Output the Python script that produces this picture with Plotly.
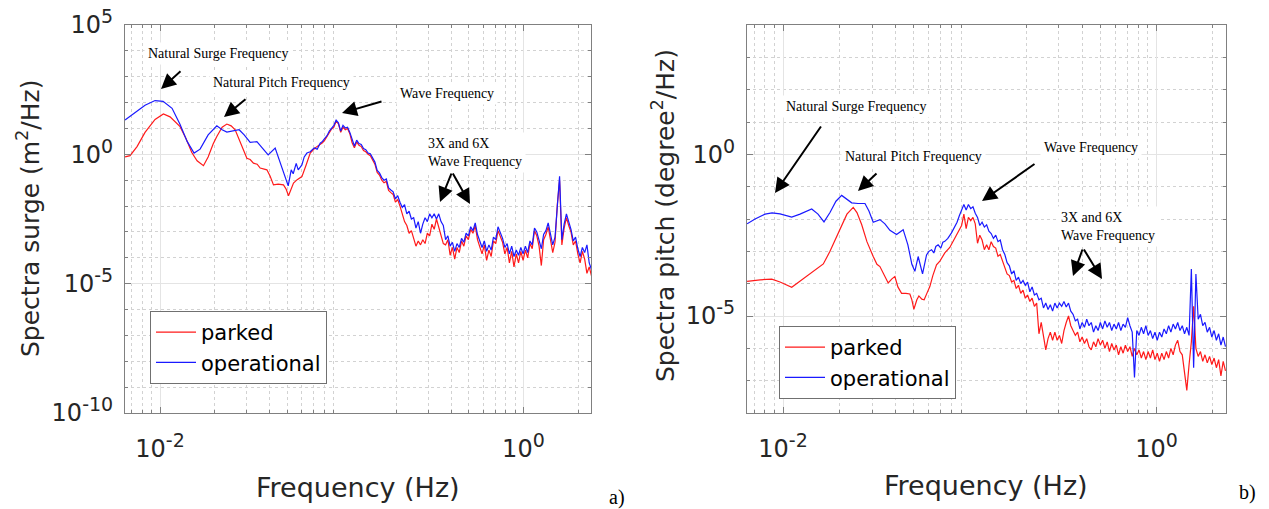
import numpy as np
import plotly.graph_objects as go

# ---------------- (a) surge spectra: values are log10 of PSD (m^2/Hz) ----------------
surge_oper_f_low = [0.006415, 0.007284, 0.008265, 0.009386, 0.01039, 0.01164, 0.01289, 0.01409, 0.01539, 0.01661,
                    0.01839, 0.02053, 0.02196, 0.02331, 0.02525, 0.02724, 0.02904, 0.03133, 0.03411, 0.03648,
                    0.03936, 0.04301, 0.04583, 0.04884, 0.05074, 0.05270, 0.05406, 0.05615, 0.05759, 0.06036,
                    0.06215, 0.06432, 0.06707, 0.07055, 0.07328]
surge_oper_low = [1.33, 1.62, 1.9, 2.08, 2.05, 1.78, 1.15, 0.5, 0.05, 0.2,
                  0.75, 1.10, 0.95, 0.86, 0.92, 0.95, 0.75, 0.46, 0.49, 0.25,
                  -0.02, 0.24, -0.3, -0.9, -1.22, -0.6, -0.75, -0.35, -0.6, -0.41,
                  -0.1, 0.05, 0.1, 0.25, 0.2]
surge_park_f_low = [0.006415, 0.006836, 0.007469, 0.008265, 0.009386, 0.01043, 0.01135, 0.01289, 0.01391, 0.01495,
                    0.01599, 0.01733, 0.01839, 0.01959, 0.02053, 0.02196, 0.02331, 0.02462, 0.02590, 0.02795,
                    0.03005, 0.03133, 0.03266, 0.03423, 0.03556, 0.03872, 0.04037, 0.04210, 0.04467, 0.04779,
                    0.04946, 0.05093, 0.05270, 0.05426, 0.05685, 0.06036, 0.06375, 0.06707, 0.07145]
surge_park_low = [-0.1, -0.05, 0.3, 0.85, 1.35, 1.56, 1.45, 1.07, 0.6, 0.07,
                  -0.25, -0.44, -0.1, 0.4, 0.69, 1.05, 1.17, 1.1, 0.95, 0.4,
                  -0.15, -0.2, -0.34, -0.38, -0.53, -0.6, -0.85, -1.18, -1.15, -1.18,
                  -1.35, -1.6, -1.35, -1.11, -0.98, -0.86, -0.4, 0.05, 0.25]
# dense FFT bins 0.0761 .. 2.37 Hz
surge_f_high_range = (0.0761, 2.37)
surge_oper_high = [0.43, 0.5, 0.62, 0.72, 0.9, 1.02, 1.12, 1.32, 1.22, 0.9,
                   1.12, 1.02, 1.05, 0.85, 0.55, 0.32, 0.55, 0.42, 0.38, 0.22,
                   0.18, 0.05, 0.02, -0.15, -0.3, -0.62, -0.72, -0.9, -1.0, -0.95,
                   -1.3, -1.38, -1.45, -1.72, -1.6, -1.85, -2.05, -1.95, -2.3, -2.2,
                   -2.5, -2.45, -2.85, -2.6, -3.05, -2.7, -2.45, -2.6, -2.3, -2.45,
                   -2.3, -2.5, -2.3, -2.6, -2.75, -3.3, -3.15, -3.55, -3.4, -3.75,
                   -3.45, -3.6, -3.25, -3.4, -3.05, -3.15, -2.8, -2.95, -2.65, -3.1,
                   -3.35, -3.6, -3.35, -3.75, -3.5, -3.7, -3.2, -3.3, -2.8, -3.05,
                   -3.25, -3.6, -3.45, -3.85, -3.55, -3.95, -3.7, -3.9, -3.6, -3.85,
                   -3.55, -3.8, -3.35, -3.5, -2.85, -3.0, -3.35, -3.65, -3.1, -2.95,
                   -2.65, -3.1, -3.5, -3.2, -1.8, -0.85, -3.3, -2.7, -2.3, -2.6,
                   -2.9, -3.35, -3.2, -3.65, -3.95, -3.6, -3.8, -3.5, -4.2, -4.45]
surge_park_high = [0.38, 0.45, 0.55, 0.68, 0.85, 0.98, 1.05, 1.28, 1.18, 0.85,
                   1.05, 0.95, 1.0, 0.8, 0.45, 0.25, 0.48, 0.35, 0.3, 0.15,
                   0.1, 0.0, -0.05, -0.22, -0.38, -0.7, -0.8, -1.0, -1.1, -1.05,
                   -1.4, -1.48, -1.55, -1.85, -1.75, -2.0, -2.3, -2.6, -2.75, -3.05,
                   -2.95, -3.3, -3.55, -3.35, -3.5, -3.3, -3.45, -3.05, -3.15, -2.7,
                   -2.9, -2.5, -2.8, -3.1, -3.45, -3.5, -3.3, -3.9, -3.6, -4.05,
                   -3.6, -3.8, -3.35, -3.55, -3.15, -3.3, -2.9, -3.05, -2.75, -3.3,
                   -3.6, -3.85, -3.5, -4.1, -3.7, -3.95, -3.35, -3.45, -2.95, -3.2,
                   -3.4, -3.85, -3.6, -4.2, -3.75, -4.35, -3.85, -4.2, -3.75, -4.1,
                   -3.7, -4.0, -3.45, -3.65, -2.95, -3.15, -3.55, -4.3, -3.3, -3.1,
                   -2.8, -3.3, -3.8, -3.4, -1.95, -1.0, -3.5, -2.85, -2.45, -2.75,
                   -3.0, -3.5, -3.35, -3.85, -4.2, -3.75, -4.05, -4.6, -4.35, -4.7]

# ---------------- (b) pitch spectra: values are log10 of PSD (degree^2/Hz) ----------------
pitch_oper_f_low = [0.006420, 0.007085, 0.008011, 0.008735, 0.009638, 0.01113, 0.01233, 0.01424, 0.01539, 0.01657,
                    0.01784, 0.01920, 0.02061, 0.02173, 0.02331, 0.02519, 0.02746, 0.02884, 0.03040, 0.03302,
                    0.03512, 0.03735, 0.04055, 0.04398, 0.04661, 0.04897, 0.05081, 0.05291, 0.05585, 0.05867,
                    0.06036, 0.06240, 0.06419, 0.06579, 0.06768, 0.06998, 0.07172, 0.07351, 0.07628, 0.07981]
pitch_oper_low = [-2.15, -2.0, -1.85, -1.81, -1.84, -1.94, -1.85, -1.69, -1.85, -2.09,
                  -1.8, -1.45, -1.27, -1.38, -1.50, -1.52, -1.52, -1.75, -2.10, -2.02,
                  -2.15, -2.35, -2.48, -2.33, -2.8, -3.4, -3.62, -3.16, -3.70, -3.11,
                  -3.0, -2.95, -3.05, -2.85, -2.80, -2.9, -2.72, -2.69, -2.6, -2.43]
pitch_park_f_low = [0.006420, 0.007534, 0.008702, 0.009638, 0.01113, 0.01233, 0.01394, 0.01643, 0.01784, 0.01920,
                    0.02061, 0.02198, 0.02376, 0.02488, 0.02636, 0.02813, 0.03040, 0.03182, 0.03302, 0.03468,
                    0.03657, 0.03827, 0.03972, 0.04121, 0.04313, 0.04546, 0.04776, 0.04897, 0.05018, 0.05207,
                    0.05338, 0.05538, 0.05697, 0.05890, 0.06111, 0.06340, 0.06635, 0.06914, 0.07351, 0.07816]
pitch_park_low = [-3.93, -3.88, -3.86, -3.95, -4.11, -3.92, -3.7, -3.39, -3.0, -2.6,
                  -2.23, -1.85, -1.64, -1.8, -2.17, -2.7, -3.16, -3.4, -3.47, -3.7,
                  -3.98, -3.85, -3.78, -4.1, -4.30, -4.3, -4.32, -4.5, -4.79, -4.5,
                  -4.38, -4.48, -4.50, -4.3, -4.09, -3.75, -3.42, -3.3, -3.05, -2.88]
pitch_f_high_range = (0.0831, 2.34)
pitch_oper_high = [-2.25, -2.1, -1.9, -1.75, -1.55, -1.72, -1.55, -1.68, -1.62, -1.82,
                   -1.95, -2.2, -2.1, -2.25, -2.18, -2.38, -2.45, -2.6, -2.5, -2.7,
                   -2.65, -2.95, -3.1, -3.35, -3.45, -3.7, -3.6, -3.9, -3.8, -4.0,
                   -3.9, -4.05, -3.95, -4.25, -4.1, -4.35, -4.3, -4.5, -4.45, -4.75,
                   -4.6, -4.8, -4.65, -4.85, -4.6, -4.75, -4.6, -4.7, -4.55, -4.72,
                   -4.6, -4.85, -4.95, -5.15, -5.1, -5.4, -5.2, -5.35, -5.1, -5.3,
                   -5.2, -5.5, -5.3, -5.45, -5.2, -5.4, -5.15, -5.35, -5.2, -5.45,
                   -5.25, -5.4, -5.2, -5.45, -5.25, -5.35, -5.05, -5.3, -5.5, -6.9,
                   -5.45, -5.6, -5.35, -5.55, -5.3, -5.6, -5.45, -5.7, -5.5, -5.75,
                   -5.5, -5.65, -5.4, -5.55, -5.3, -5.5, -5.25, -5.4, -5.2, -5.45,
                   -5.3, -5.55, -5.35, -5.6, -3.55, -6.6, -3.7, -5.1, -4.95, -5.3,
                   -5.2, -5.5, -5.35, -5.65, -5.45, -5.75, -5.55, -5.9, -5.65, -5.95]
pitch_park_high = [-2.6, -2.45, -2.35, -2.2, -1.85, -2.3, -1.95, -2.05, -1.95, -2.15,
                   -2.75, -2.5, -2.65, -2.95, -2.8, -2.95, -2.7, -2.85, -2.9, -3.15,
                   -3.1, -3.3, -3.5, -3.7, -3.75, -3.95, -3.9, -4.15, -4.05, -4.3,
                   -4.2, -4.45, -4.35, -4.55, -4.45, -4.7, -4.6, -5.55, -5.2, -5.6,
                   -6.05, -5.7, -5.5, -5.75, -5.5, -5.75, -5.6, -5.85, -5.45, -5.2,
                   -5.0, -5.3, -5.45, -5.6, -5.5, -5.8, -5.65, -5.85, -5.7, -5.95,
                   -6.05, -5.8, -5.95, -5.7, -5.9, -5.75, -6.0, -5.8, -6.1, -5.85,
                   -6.05, -5.9, -6.2, -5.95, -6.15, -5.9, -6.1, -5.95, -6.25, -6.0,
                   -6.2, -6.05, -6.3, -6.1, -6.35, -6.1, -6.3, -6.05, -6.35, -6.15,
                   -6.4, -6.15, -6.35, -6.1, -6.3, -6.0, -6.2, -5.9, -5.75, -6.1,
                   -6.2, -6.7, -7.3, -6.5, -5.8, -4.7, -6.0, -6.25, -6.1, -6.4,
                   -6.2, -6.45, -6.25, -6.5, -6.3, -6.6, -6.35, -6.85, -6.4, -6.7]

series_names = ["parked", "operational"]
series_colors = ["#ff1a1a", "#1a1aff"]

W, H = 1269, 509
def PX(x): return x / W
def PY(y): return 1 - y / H

def series(f_low, v_low, f_range, v_high):
    f_high = np.geomspace(f_range[0], f_range[1], len(v_high))
    f = np.concatenate([np.array(f_low), f_high])
    v = 10.0 ** np.concatenate([np.array(v_low), np.array(v_high)])
    return f, v

fig = go.Figure()
panels = [
    ("x", "y", "legend", [(surge_park_f_low, surge_park_low, surge_f_high_range, surge_park_high),
                          (surge_oper_f_low, surge_oper_low, surge_f_high_range, surge_oper_high)]),
    ("x2", "y2", "legend2", [(pitch_park_f_low, pitch_park_low, pitch_f_high_range, pitch_park_high),
                             (pitch_oper_f_low, pitch_oper_low, pitch_f_high_range, pitch_oper_high)]),
]
for xa, ya, leg, data in panels:
    for (fl, vl, fr, vh), name, col in zip(data, series_names, series_colors):
        f, v = series(fl, vl, fr, vh)
        fig.add_trace(go.Scatter(x=f, y=v, mode="lines", name=name, xaxis=xa, yaxis=ya,
                                 legend=leg, line=dict(color=col, width=1.2)))

AX = "#808080"
TICKFONT = dict(family="DejaVu Sans", size=24, color="#262626")
x_minor = [k * 10.0 ** e for e in (-3, -2, -1, 0) for k in range(2, 10)]

def pow_label(m):
    return "10<sup><span style='font-size:19px'>%d</span></sup>" % m

def xaxis(domain, anchor):
    return dict(type="log", range=[-2.193, 0.372], domain=domain, anchor=anchor, automargin=False,
                tickmode="array", tickvals=[0.01, 1], ticktext=[pow_label(-2), pow_label(0)],
                ticks="inside", ticklen=6, tickcolor=AX, showline=True, linecolor=AX, linewidth=1,
                mirror="ticks", showgrid=True, gridcolor="#e4e4e4", gridwidth=1, zeroline=False,
                tickfont=TICKFONT, ticklabelstandoff=14,
                minor=dict(tickvals=x_minor, ticks="inside", ticklen=3, tickcolor=AX,
                           showgrid=True, gridcolor="#d2d2d2", griddash="dot", gridwidth=1))

def yaxis(domain, anchor, rng, majors, minors):
    return dict(type="log", range=rng, domain=domain, anchor=anchor, automargin=False,
                tickmode="array", tickvals=[10.0 ** m for m in majors],
                ticktext=[pow_label(m) for m in majors],
                ticks="inside", ticklen=6, tickcolor=AX, showline=True, linecolor=AX, linewidth=1,
                mirror="ticks", showgrid=True, gridcolor="#e4e4e4", gridwidth=1, zeroline=False,
                tickfont=TICKFONT, ticklabelstandoff=6,
                minor=dict(tickvals=[10.0 ** m for m in minors], ticks="inside", ticklen=3, tickcolor=AX,
                           showgrid=True, gridcolor="#d2d2d2", griddash="dot", gridwidth=1))

ydom = [PY(413), PY(25)]
fig.update_layout(
    width=W, height=H, margin=dict(l=0, r=0, t=0, b=0, autoexpand=False),
    paper_bgcolor="white", plot_bgcolor="white",
    xaxis=xaxis([PX(125), PX(591)], "y"),
    yaxis=yaxis(ydom, "x", [-10, 5], [-10, -5, 0, 5], [m for m in range(-9, 5) if m not in (-5, 0)]),
    xaxis2=xaxis([PX(747), PX(1226)], "y2"),
    yaxis2=yaxis(ydom, "x2", [-8, 4], [-5, 0], [m for m in range(-7, 4) if m not in (-5, 0)]),
    legend=dict(x=PX(150), y=PY(311), xanchor="left", yanchor="top", bgcolor="white",
                bordercolor="#707070", borderwidth=1, itemwidth=40,
                font=dict(family="DejaVu Sans", size=21, color="black")),
    legend2=dict(x=PX(779), y=PY(326), xanchor="left", yanchor="top", bgcolor="white",
                 bordercolor="#707070", borderwidth=1, itemwidth=40,
                 font=dict(family="DejaVu Sans", size=21, color="black")),
)

ann = []
SANS = dict(family="DejaVu Sans", size=25, color="#262626")
# axis titles
ann.append(dict(text="Spectra surge (m<sup>2</sup>/Hz)", x=PX(28), y=PY(219), textangle=-90, font=SANS))
ann.append(dict(text="Spectra pitch (degree<sup>2</sup>/Hz)", x=PX(664), y=PY(216), textangle=-90, font=SANS))
ann.append(dict(text="Frequency (Hz)", x=PX(358), y=PY(487), font=dict(family="DejaVu Sans", size=27, color="#262626")))
ann.append(dict(text="Frequency (Hz)", x=PX(986), y=PY(485), font=dict(family="DejaVu Sans", size=27, color="#262626")))
SERIF = dict(family="Liberation Serif", size=20, color="black")
ann.append(dict(text="a)", x=PX(617), y=PY(497), font=SERIF))
ann.append(dict(text="b)", x=PX(1247), y=PY(492), font=SERIF))

# callout texts
NOTE = dict(family="Liberation Serif", size=14, color="black")
for t, cx, cy, anchor in [
    ("Natural Surge Frequency", 218, 53, "center"),
    ("Natural Pitch Frequency", 281, 82, "center"),
    ("Wave Frequency", 447, 94, "center"),
    ("3X and 6X<br>Wave Frequency", 424, 152, "left"),
    ("Natural Surge Frequency", 856, 106, "center"),
    ("Natural Pitch Frequency", 913, 156, "center"),
    ("Wave Frequency", 1091, 147, "center"),
    ("3X and 6X<br>Wave Frequency", 1057, 226, "left"),
]:
    ann.append(dict(text=t, x=PX(cx), y=PY(cy), xanchor=anchor, align="left", font=NOTE,
                    bgcolor="white", borderpad=3))

# arrows (head, tail) in pixels
for (hx, hy), (tx, ty) in [
    ((161, 89), (182, 70)), ((224, 117), (247, 98)), ((342, 113), (383, 101)),
    ((440, 202), (452, 172)), ((470, 204), (452, 172)),
    ((775, 193), (822, 125)), ((858, 191), (878, 172)), ((982, 201), (1036, 163)),
    ((1073, 276), (1083, 248)), ((1102, 279), (1083, 248)),
]:
    ann.append(dict(text="", x=PX(hx), y=PY(hy), ax=tx - hx, ay=ty - hy, showarrow=True,
                    arrowhead=2, arrowsize=1.5, arrowwidth=2, arrowcolor="black"))

for a in ann:
    a.setdefault("xref", "paper")
    a.setdefault("yref", "paper")
    a.setdefault("xanchor", "center")
    a.setdefault("yanchor", "middle")
    a.setdefault("showarrow", False)
fig.update_layout(annotations=ann)

fig.write_html("out.html")
